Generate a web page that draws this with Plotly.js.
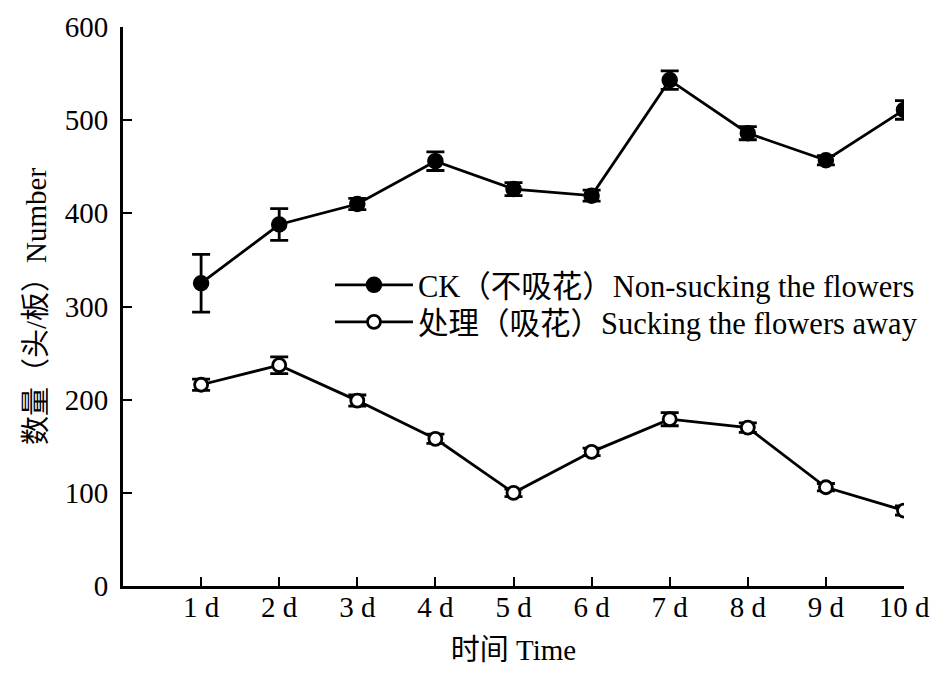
<!DOCTYPE html>
<html><head><meta charset="utf-8">
<script src="https://cdn.plot.ly/plotly-3.0.1.min.js"></script>
<style>body{margin:0;background:#fff}#chart{width:949px;height:685px}</style>
</head><body><div id="chart"></div>
<script>
const days = [1,2,3,4,5,6,7,8,9,10];
const dayLabels = ['1 d','2 d','3 d','4 d','5 d','6 d','7 d','8 d','9 d','10 d'];
const ckValues = [325,388,410,456,426,419,543,486,457,511];
const ckErrors = [31,17,6,10,7,6,10,7,5,10];
const treatValues = [216,237,199,158,100,144,179,170,106,81];
const treatErrors = [6,9,6,5,4,4,7,5,4,5];
const ckName = 'CK（不吸花）Non-sucking the flowers';
const treatName = '处理（吸花）Sucking the flowers away';

const FONT = '"Liberation Serif", "Times New Roman", "Noto Sans CJK SC", serif';

const traces = [
  {x: days, y: ckValues, name: ckName, type: 'scatter', mode: 'lines+markers', legend: 'legend',
   line: {color: '#000', width: 2.8},
   marker: {symbol: 'circle', size: 15, color: '#000', line: {color: '#000', width: 1.5}},
   error_y: {type: 'data', array: ckErrors, visible: true, color: '#000', thickness: 2.8, width: 9}},
  {x: days, y: treatValues, name: treatName, type: 'scatter', mode: 'lines+markers', legend: 'legend2',
   line: {color: '#000', width: 2.8},
   marker: {symbol: 'circle', size: 13, color: '#fff', line: {color: '#000', width: 2.8}},
   error_y: {type: 'data', array: treatErrors, visible: true, color: '#000', thickness: 2.8, width: 9}}
];

const legendStyle = {xanchor: 'left', yanchor: 'middle', bgcolor: 'rgba(0,0,0,0)',
  font: {family: FONT, size: 30.5, color: '#000'}, itemwidth: 78};

const layout = {
  width: 949, height: 685,
  margin: {l: 123, r: 45, t: 27, b: 99},
  paper_bgcolor: '#fff', plot_bgcolor: '#fff',
  font: {family: FONT, color: '#000', size: 29},
  showlegend: true,
  legend: Object.assign({x: 0.265, y: 0.5385}, legendStyle),
  legend2: Object.assign({x: 0.265, y: 0.4723}, legendStyle),
  xaxis: {range: [0, 10], tickvals: days, ticktext: dayLabels, showgrid: false, zeroline: false,
          showline: true, linecolor: '#000', linewidth: 3, ticks: 'inside', ticklen: 9,
          tickwidth: 2, tickcolor: '#000', tickfont: {family: FONT, size: 29}, ticklabelstandoff: -7,
          title: {text: '时间 Time', font: {family: FONT, size: 29}, standoff: 18}},
  yaxis: {range: [0, 600], tickvals: [0,100,200,300,400,500,600], showgrid: false, zeroline: false,
          showline: true, linecolor: '#000', linewidth: 3, ticks: 'inside', ticklen: 9,
          tickwidth: 2, tickcolor: '#000', tickfont: {family: FONT, size: 29}, ticklabelstandoff: 6,
          title: {text: '数量（头/板）Number', font: {family: FONT, size: 29}, standoff: 10}}
};
Plotly.newPlot('chart', traces, layout, {displayModeBar: false, staticPlot: true});
</script></body></html>
